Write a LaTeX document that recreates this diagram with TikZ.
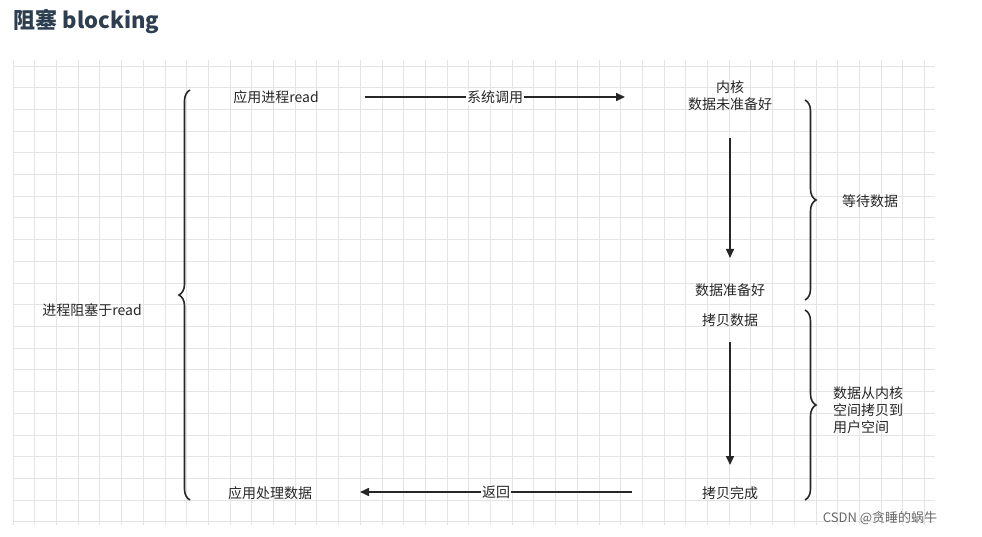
\documentclass[tikz,border=0pt]{standalone}
\usepackage{fontspec}
\setmainfont{Noto Sans CJK SC}
\usetikzlibrary{decorations.pathreplacing,arrows.meta}
\definecolor{gridgray}{RGB}{228,228,228}
\definecolor{titleblue}{RGB}{44,62,80}
\tikzset{
  lbl/.style={inner sep=1pt,font=\fontsize{14}{17}\selectfont,text=black!85},
  flow/.style={line width=1.6pt,black!85,-{Triangle[length=9pt,width=8pt]}},
  brc/.style={line width=1.6pt,black!85,decorate,decoration={brace,amplitude=11pt}}
}
\begin{document}
\begin{tikzpicture}[x=1pt,y=-1pt]
	\useasboundingbox (0,0) rectangle (982,537);
	% grid
	\foreach \i in {0,...,42} \draw[gridgray,line width=0.8pt] (13+21.7*\i,60) -- (13+21.7*\i,525);
	\foreach \j in {0,...,21} \draw[gridgray,line width=0.8pt] (13,66+21.7*\j) -- (935,66+21.7*\j);
	\node[anchor=west,font=\fontsize{22}{26}\selectfont\bfseries,text=titleblue] (title) at (10,22) {阻塞 blocking};
	% nodes
	\node[lbl] (read) at (276,97) {应用进程read};
	\node[lbl,align=center] (kernel) at (730,96) {内核\\数据未准备好};
	\node[lbl] (ready) at (730,290) {数据准备好};
	\node[lbl] (copy) at (730,320) {拷贝数据};
	\node[lbl] (done) at (730,493) {拷贝完成};
	\node[lbl] (handle) at (270,493) {应用处理数据};
	\node[lbl] (blocked) at (92,310) {进程阻塞于read};
	\node[lbl] (wait) at (870,201) {等待数据};
	\node[lbl,align=left,anchor=west] (kcopy) at (832,410) {数据从内核\\空间拷贝到\\用户空间};
	\node[lbl,text=black!60,font=\fontsize{13}{15}\selectfont] (mark) at (880,518) {CSDN @贪睡的蜗牛};
	% arrows
	\coordinate (s1) at (365,97); \coordinate (e1) at (625,97);
	\draw[flow] (s1) -- node[lbl,fill=white] {系统调用} (e1);
	\draw[flow] (kernel.south |- 0,138) -- (kernel.south |- 0,258);
	\draw[flow] (copy.south |- 0,342) -- (copy.south |- 0,465);
	\coordinate (s2) at (632,492); \coordinate (e2) at (360,492);
	\draw[flow] (s2) -- node[lbl,fill=white] {返回} (e2);
	% braces
	\draw[brc] (190,500) -- (190,90);
	\draw[brc] (805,100) -- (805,300);
	\draw[brc] (805,310) -- (805,500);
\end{tikzpicture}
\end{document}
